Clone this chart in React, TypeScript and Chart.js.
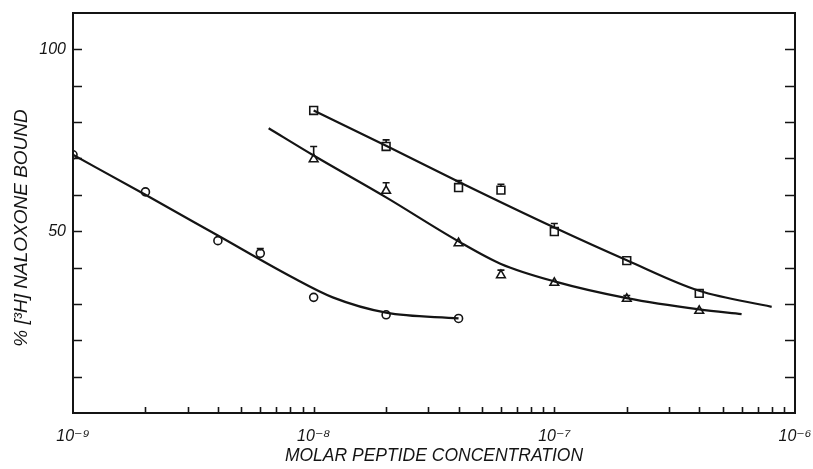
import React, { useEffect, useRef } from "react";
import { Chart, registerables } from "chart.js";

Chart.register(...registerables);

// ---- Measured data (molar concentration, % bound) ----
const circleX = [1e-9, 2e-9, 4e-9, 6e-9, 1e-8, 2e-8, 4e-8];
const circleY = [71.0, 60.8, 47.4, 43.9, 31.8, 27.0, 26.0];
const circleErr = [null, null, null, 45.2, null, null, null];

const triangleX = [1e-8, 2e-8, 4e-8, 6e-8, 1e-7, 2e-7, 4e-7];
const triangleY = [69.8, 61.1, 46.7, 37.9, 35.8, 31.4, 28.1];
const triangleErr = [73.3, 63.3, null, 39.3, null, 32.3, null];

const squareX = [1e-8, 2e-8, 4e-8, 6e-8, 1e-7, 2e-7, 4e-7];
const squareY = [83.2, 73.3, 62.0, 61.3, 49.9, 41.9, 32.9];
const squareErr = [null, 75.1, 63.9, 62.9, 52.1, null, null];

// ---- Fitted curves ----
const circleFitX = [1e-9, 2e-9, 4e-9, 8e-9, 1.2e-8, 2e-8, 4e-8];
const circleFitY = [71.0, 60.0, 48.8, 37.6, 31.8, 27.6, 26.0];

const triangleFitX = [6.5e-9, 1e-8, 2e-8, 4e-8, 6e-8, 1e-7, 2e-7, 4e-7, 6e-7];
const triangleFitY = [78.3, 70.8, 59.3, 47.2, 41.0, 36.2, 31.6, 28.5, 27.2];

const squareFitX = [1e-8, 2e-8, 4e-8, 1e-7, 2e-7, 4e-7, 8e-7];
const squareFitY = [83.2, 73.5, 63.6, 51.0, 42.0, 33.6, 29.2];

// ---- Axes ----
const xMin = 1e-9;
const xMax = 1e-6;
const xDecades = [1e-9, 1e-8, 1e-7, 1e-6];
const xDecadeLabels = ["10\u207B\u2079", "10\u207B\u2078", "10\u207B\u2077", "10\u207B\u2076"];
const xMinorMultipliers = [1, 2, 3, 4, 5, 6, 7, 8, 9];
const yMin = 0;
const yMax = 110;
const yTicks = [0, 10, 20, 30, 40, 50, 60, 70, 80, 90, 100, 110];
const yLabelled = [50, 100];
const xTitle = "MOLAR PEPTIDE CONCENTRATION";
const yTitle = "% [\u00B3H] NALOXONE BOUND";

const INK = "#141414";
const FONT = '"Liberation Sans", "DejaVu Sans", sans-serif';

function buildXTicks(): number[] {
  const out: number[] = [];
  for (let d = 0; d < xDecades.length - 1; d++) {
    for (const m of xMinorMultipliers) out.push(m * xDecades[d]);
  }
  out.push(xDecades[xDecades.length - 1]);
  return out;
}

const pts = (xs: number[], ys: number[]) => xs.map((x, i) => ({ x, y: ys[i] }));

export default function App() {
  const ref = useRef<HTMLCanvasElement>(null);

  useEffect(() => {
    const canvas = ref.current;
    if (!canvas) return;
    const xTickValues = buildXTicks();

    const framePlugin = {
      id: "frameTicks",
      afterDraw(chart: any) {
        const { ctx, chartArea: a, scales } = chart;
        const xs = scales.x;
        const ys = scales.y;
        ctx.save();
        ctx.strokeStyle = INK;
        ctx.lineWidth = 2;
        ctx.strokeRect(a.left, a.top, a.right - a.left, a.bottom - a.top);
        ctx.lineWidth = 1.6;
        ctx.beginPath();
        for (const t of ys.ticks) {
          if (t.value <= yMin || t.value >= yMax) continue;
          const py = Math.round(ys.getPixelForValue(t.value)) + 0.5;
          ctx.moveTo(a.left, py);
          ctx.lineTo(a.left + 9, py);
          ctx.moveTo(a.right, py);
          ctx.lineTo(a.right - 10, py);
        }
        for (const t of xs.ticks) {
          const px = Math.round(xs.getPixelForValue(t.value)) + 0.5;
          if (px <= a.left + 2 || px >= a.right - 2) continue;
          ctx.moveTo(px, a.bottom);
          ctx.lineTo(px, a.bottom - 6);
        }
        ctx.stroke();

        // y-axis title
        ctx.fillStyle = INK;
        ctx.font = `italic 19px ${FONT}`;
        ctx.textAlign = "center";
        ctx.textBaseline = "middle";
        ctx.translate(22, 228);
        ctx.rotate(-Math.PI / 2);
        ctx.fillText(yTitle, 0, 0);
        ctx.restore();
      },
    };

    const errorBarPlugin = {
      id: "errorBars",
      afterDatasetsDraw(chart: any) {
        const { ctx, scales } = chart;
        ctx.save();
        ctx.strokeStyle = INK;
        ctx.lineWidth = 1.6;
        chart.data.datasets.forEach((ds: any, di: number) => {
          if (!ds.errUpper) return;
          const meta = chart.getDatasetMeta(di);
          ds.errUpper.forEach((e: number | null, i: number) => {
            if (e == null) return;
            const el = meta.data[i];
            const r = ds.pointRadius || 4;
            const yTop = scales.y.getPixelForValue(e);
            ctx.beginPath();
            ctx.moveTo(el.x, el.y - r * 0.7);
            ctx.lineTo(el.x, yTop);
            ctx.moveTo(el.x - 3.5, yTop);
            ctx.lineTo(el.x + 3.5, yTop);
            ctx.stroke();
          });
        });
        ctx.restore();
      },
    };

    const lineDs = (xs: number[], ys: number[]) => ({
      type: "line" as const,
      data: pts(xs, ys),
      borderColor: INK,
      borderWidth: 2.2,
      pointRadius: 0,
      fill: false,
      cubicInterpolationMode: "monotone" as const,
      showLine: true,
    });
    const markerDs = (xs: number[], ys: number[], err: (number | null)[], style: string, r: number) => ({
      type: "scatter" as const,
      data: pts(xs, ys),
      pointStyle: style,
      pointRadius: r,
      pointBorderWidth: 1.6,
      pointBorderColor: INK,
      pointBackgroundColor: "#ffffff",
      showLine: false,
      errUpper: err,
    });

    const chart = new Chart(canvas, {
      type: "scatter",
      data: {
        datasets: [
          lineDs(circleFitX, circleFitY),
          lineDs(triangleFitX, triangleFitY),
          lineDs(squareFitX, squareFitY),
          markerDs(circleX, circleY, circleErr, "circle", 4),
          markerDs(triangleX, triangleY, triangleErr, "triangle", 5),
          markerDs(squareX, squareY, squareErr, "rect", 5.5),
        ] as any,
      },
      options: {
        responsive: false,
        animation: false,
        devicePixelRatio: 1,
        layout: { padding: { top: 13, right: 18, left: 0, bottom: 0 } },
        plugins: { legend: { display: false }, tooltip: { enabled: false } },
        scales: {
          x: {
            type: "logarithmic",
            min: xMin,
            max: xMax,
            afterBuildTicks: (s: any) => {
              s.ticks = xTickValues.map((v) => ({ value: v }));
            },
            afterFit: (s: any) => {
              s.height = 56;
              s.paddingLeft = 0;
              s.paddingRight = 0;
            },
            grid: { display: false, drawTicks: false },
            border: { display: false },
            ticks: {
              autoSkip: false,
              maxRotation: 0,
              padding: 14,
              color: INK,
              font: { family: FONT, size: 16, style: "italic" },
              callback: (v: any) => {
                const idx = xDecades.findIndex((d) => Math.abs(Math.log10(Number(v)) - Math.log10(d)) < 1e-6);
                return idx >= 0 ? xDecadeLabels[idx] : "";
              },
            },
            title: {
              display: true,
              text: xTitle,
              color: INK,
              font: { family: FONT, size: 17.5, style: "italic" },
              padding: { top: 0, bottom: 2 },
            },
          },
          y: {
            type: "linear",
            min: yMin,
            max: yMax,
            afterBuildTicks: (s: any) => {
              s.ticks = yTicks.map((v) => ({ value: v }));
            },
            afterFit: (s: any) => {
              s.width = 73;
              s.paddingTop = 0;
              s.paddingBottom = 0;
            },
            grid: { display: false, drawTicks: false },
            border: { display: false },
            ticks: {
              autoSkip: false,
              padding: 7,
              color: INK,
              font: { family: FONT, size: 16, style: "italic" },
              callback: (v: any) => (yLabelled.includes(Number(v)) ? String(v) : ""),
            },
          },
        },
      } as any,
      plugins: [framePlugin, errorBarPlugin],
    });

    return () => chart.destroy();
  }, []);

  return (
    <div style={{ position: "fixed", left: 0, top: 0, width: 813, height: 469, background: "#ffffff" }}>
      <canvas ref={ref} width={813} height={469} style={{ display: "block" }} />
    </div>
  );
}
